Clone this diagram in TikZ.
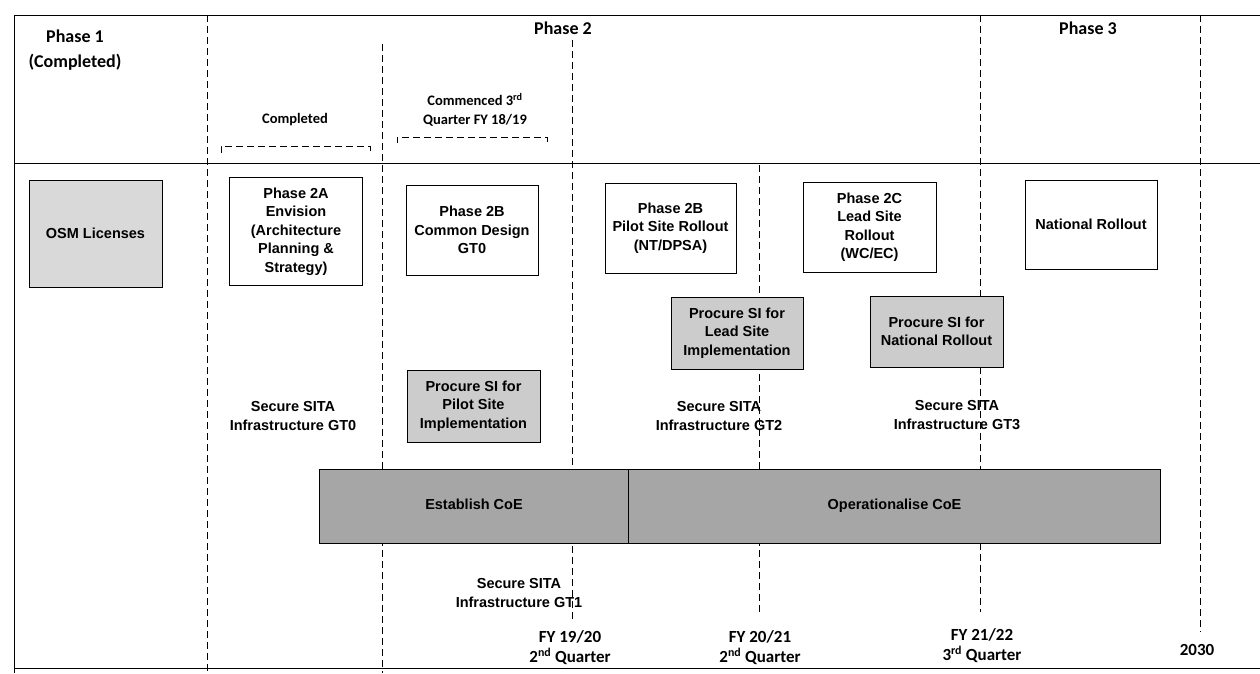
\documentclass[tikz,border=0pt]{standalone}
\usepackage{fontspec}
\setmainfont{Liberation Sans}
\newfontfamily\calibri{Carlito}

\begin{document}
\begin{tikzpicture}[x=1pt,y=-1pt,
  box node/.style={draw,rectangle,line width=1pt,align=center,inner sep=1pt,font=\bfseries\fontsize{14.5}{18.5}\selectfont},
  grey node/.style={box node,fill=gray!40},
  bar node/.style={draw,rectangle,line width=1pt,fill=gray!70,minimum height=74pt,anchor=west,text height=1.5ex,text depth=.25ex,font=\bfseries\fontsize{14.5}{18.5}\selectfont},
  head node/.style={align=center,font=\calibri\bfseries\fontsize{18}{25}\selectfont},
  sub node/.style={align=center,font=\calibri\bfseries\fontsize{14.5}{19}\selectfont},
  date node/.style={align=center,font=\calibri\bfseries\fontsize{17}{20}\selectfont},
  sita node/.style={align=center,font=\bfseries\fontsize{14.5}{19}\selectfont},
  grid line/.style={line width=0.9pt,dash pattern=on 7pt off 4pt}]

   \useasboundingbox (0,0) rectangle (1260,673);

   % frame
   \draw[line width=1pt] (1260,15) -- (14,15) -- (14,673);
   \draw[line width=1pt] (14,163) -- (1260,163);
   \draw[line width=1pt] (14,668) -- (1260,668);

   % milestone lines
   \foreach \x/\ya/\yb in {207/15/673, 382/44/673, 572/40/622, 759/165/615, 980/15/612, 1200/15/632}
     \draw[grid line] (\x,\ya) -- (\x,\yb);

   \draw[grid line] (221,153) -- (221,146) -- (370,146) -- (370,153);
   \draw[grid line] (397,143) -- (397,137) -- (547,137) -- (547,143);

   % headings
   \node[head node] (ph1)   at (75,50)    {Phase 1\\(Completed)};
   \node[head node] (ph2)   at (563,28)   {Phase 2};
   \node[head node] (ph3)   at (1088,28)  {Phase 3};
   \node[sub node]  (done)  at (295,120)  {Completed};
   \node[sub node]  (begun) at (475,110)  {Commenced 3\textsuperscript{rd}\\Quarter FY 18/19};

   % work packages
   \node[grey node,fill=gray!30,minimum width=133pt,minimum height=107pt] (osm)   at (95.5,233.5) {OSM Licenses};
   \node[box node,minimum width=133pt,minimum height=108pt]  (p2a)     at (296,231.5)  {Phase 2A\\Envision\\(Architecture\\Planning \&\\Strategy)};
   \node[box node,minimum width=132pt,minimum height=90pt]   (p2b)     at (472,230)    {Phase 2B\\Common Design\\GT0};
   \node[box node,minimum width=131pt,minimum height=90pt]   (pilot)   at (670.5,228)  {Phase 2B\\Pilot Site Rollout\\(NT/DPSA)};
   \node[box node,minimum width=133pt,minimum height=90pt]   (p2c)     at (869.5,227)  {Phase 2C\\Lead Site\\Rollout\\(WC/EC)};
   \node[box node,minimum width=132pt,minimum height=89pt]   (natroll) at (1091,224.5) {National Rollout};
   \node[grey node,minimum width=132pt,minimum height=72pt]  (silead)  at (737,333)    {Procure SI for\\Lead Site\\Implementation};
   \node[grey node,minimum width=133pt,minimum height=71pt]  (sinat)   at (936.5,331.5) {Procure SI for\\National Rollout};
   \node[grey node,minimum width=133pt,minimum height=72pt]  (sipilot) at (473.5,406)  {Procure SI for\\Pilot Site\\Implementation};

   \node[bar node,minimum width=309pt] (estcoe) at (319,506) {Establish CoE};
   \node[bar node,minimum width=532pt] (opcoe)  at (628,506) {Operationalise CoE};

   % infrastructure
   \node[sita node] (gt0) at (293,415.5) {Secure SITA\\Infrastructure GT0};
   \node[sita node] (gt1) at (519,593)   {Secure SITA\\Infrastructure GT1};
   \node[sita node] (gt2) at (719,415.5) {Secure SITA\\Infrastructure GT2};
   \node[sita node] (gt3) at (957,415.5) {Secure SITA\\Infrastructure GT3};

   % dates
   \node[date node] (fy1)   at (570,648)  {FY 19/20\\2\textsuperscript{nd} Quarter};
   \node[date node] (fy2)   at (760,648)  {FY 20/21\\2\textsuperscript{nd} Quarter};
   \node[date node] (fy3)   at (982,646)  {FY 21/22\\3\textsuperscript{rd} Quarter};
   \node[date node] (y2030) at (1197,650) {2030};

\end{tikzpicture}
\end{document}
